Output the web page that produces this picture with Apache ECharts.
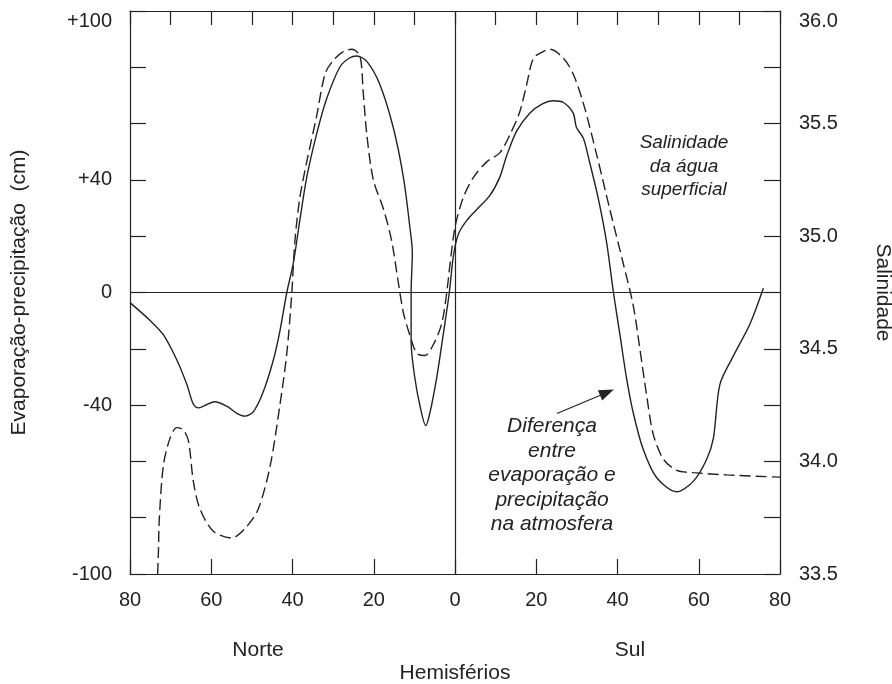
<!DOCTYPE html>
<html>
<head>
<meta charset="utf-8">
<script src="https://cdn.jsdelivr.net/npm/echarts@6/dist/echarts.min.js"></script>
<style>
  html, body { margin: 0; padding: 0; background: #fff; }
  #chart { width: 892px; height: 684px; }
</style>
</head>
<body>
<div id="chart"></div>
<script>
// latitude: negative = Norte, positive = Sul
const evapLat = [-80, -75.1, -71.8, -68.5, -66, -64.4, -63.2, -61.5, -59.1, -56.2, -53.7, -51.7, -49.6, -47.2, -44.7, -43.1, -41.4, -39.8, -38.2, -36.5, -34.1, -31.6, -28.3, -25.9, -24.2, -21.7, -18.5, -15.2, -12.7, -11.1, -10.5, -10.8, -10.8, -9.9, -8.6, -7.2, -6.2, -4.5, -2.9, -1.4, -0.4, 0.8, 2.9, 5.3, 8.6, 11, 12.7, 15.2, 18.4, 21.5, 24.2, 26.7, 29.1, 29.9, 31.6, 33.2, 35.3, 37.3, 39, 40.6, 42.2, 43.9, 46.3, 49.6, 54.6, 58.7, 61.9, 63.6, 65.2, 68.5, 72.6, 75.9]
const evapVal = [-3.6, -9.9, -15, -23.9, -32.7, -39.7, -41, -40.1, -38.8, -40.4, -42.9, -43.9, -42.3, -35.3, -23.9, -13.7, 0, 10.4, 25.6, 40.9, 56.1, 68.8, 80.2, 83.4, 84, 82.1, 73.9, 58.6, 40.9, 23.1, 14.2, 0, -17.5, -30.2, -40.4, -47.3, -42.9, -30.2, -15, 0, 12.9, 20.6, 25.6, 29.4, 34.5, 40.9, 48.5, 57.4, 63.7, 67, 68.1, 67.5, 63.7, 58.6, 54.8, 45.9, 33.2, 18, 0, -15, -30.2, -42.9, -55.6, -65.7, -70.8, -67, -59.4, -51.8, -32.7, -22.6, -11.2, 1.5]

const salLat = [-73.2, -73.0, -72.8, -71.8, -70.2, -68.5, -66.9, -65.6, -64.4, -62.8, -59.5, -55, -51.3, -48.4, -45.5, -43.1, -41.4, -40.2, -39.4, -38.2, -36.5, -34.1, -32, -30, -27.5, -25.4, -23.4, -22.6, -21.7, -20.1, -17.6, -15.6, -14, -12.7, -11.1, -9.4, -7.4, -5.3, -3.3, -2.1, -1.2, 0, 2, 4.5, 7.8, 11, 13.5, 15.9, 17.6, 19.3, 21.7, 23.4, 26.7, 29.1, 31.6, 34.9, 38.1, 41.4, 43.9, 45.5, 47.2, 48.8, 51.3, 54.6, 58.7, 66.9, 80]
const salVal = [33.5, 33.6, 33.74, 33.98, 34.1, 34.15, 34.14, 34.09, 33.91, 33.79, 33.69, 33.66, 33.71, 33.79, 33.98, 34.25, 34.48, 34.74, 34.98, 35.17, 35.33, 35.53, 35.72, 35.78, 35.82, 35.83, 35.80, 35.64, 35.45, 35.25, 35.12, 34.98, 34.80, 34.66, 34.56, 34.48, 34.47, 34.52, 34.61, 34.74, 34.88, 35.04, 35.17, 35.26, 35.33, 35.37, 35.45, 35.55, 35.67, 35.79, 35.82, 35.83, 35.79, 35.72, 35.59, 35.36, 35.12, 34.88, 34.69, 34.50, 34.29, 34.12, 34.01, 33.96, 33.95, 33.94, 33.93]

const leftLabels = [100, 40, 0, -40, -100]
const rightLabels = [33.5, 34.0, 34.5, 35.0, 35.5, 36.0]

const ink = '#222'
const font = 'Liberation Sans, Arial, Helvetica, sans-serif'

const myChart = echarts.init(document.getElementById('chart'))
const option = {
  animation: false,
  backgroundColor: '#fff',
  textStyle: { fontFamily: font, color: ink },
  grid: { left: 130, right: 112, top: 11, bottom: 110, outerBoundsMode: 'none', containLabel: false },
  xAxis: [{
    type: 'value', min: -80, max: 80, interval: 20,
    name: 'Hemisférios', nameLocation: 'middle', nameGap: 89,
    nameTextStyle: { fontSize: 21, color: ink, fontFamily: font },
    axisLine: { onZero: false, lineStyle: { color: ink, width: 1.2 } },
    axisTick: { inside: true, length: 15, lineStyle: { color: ink, width: 1.2 } },
    axisLabel: { margin: 16, fontSize: 20, color: ink, fontFamily: font, formatter: v => String(Math.abs(v)) },
    splitLine: { show: false }
  }, {
    type: 'value', position: 'top', min: -80, max: 80, interval: 10,
    axisLine: { show: true, onZero: false, lineStyle: { color: ink, width: 1.2 } },
    axisTick: { inside: true, length: 14, lineStyle: { color: ink, width: 1.2 } },
    axisLabel: { show: false },
    splitLine: { show: false }
  }],
  yAxis: [{
    type: 'value', min: -100, max: 100, interval: 20,
    name: 'Evaporação-precipitação  (cm)', nameLocation: 'middle', nameGap: 100,
    nameTextStyle: { fontSize: 21, color: ink, fontFamily: font },
    axisLine: { show: true, onZero: false, lineStyle: { color: ink, width: 1.2 } },
    axisTick: { inside: true, length: 16, lineStyle: { color: ink, width: 1.2 } },
    axisLabel: {
      margin: 18, fontSize: 20, color: ink, fontFamily: font, verticalAlignMaxLabel: 'top',
      formatter: v => leftLabels.includes(v) ? (v > 0 ? '+' + v : String(v)) : ''
    },
    splitLine: { show: false }
  }, {
    type: 'value', position: 'right', min: 33.5, max: 36, interval: 0.25,
    name: 'Salinidade', nameLocation: 'middle', nameGap: 92, nameRotate: -90,
    nameTextStyle: { fontSize: 21, color: ink, fontFamily: font },
    axisLine: { show: true, onZero: false, lineStyle: { color: ink, width: 1.2 } },
    axisTick: { inside: true, length: 16, lineStyle: { color: ink, width: 1.2 } },
    axisLabel: {
      margin: 19, fontSize: 20, color: ink, fontFamily: font, verticalAlignMaxLabel: 'top',
      formatter: v => rightLabels.some(r => Math.abs(r - v) < 1e-6) ? v.toFixed(1) : ''
    },
    splitLine: { show: false }
  }],
  series: [{
    name: 'E-P', type: 'line', xAxisIndex: 0, yAxisIndex: 0,
    data: evapLat.map((x, i) => [x, evapVal[i]]),
    smooth: 0.3, showSymbol: false, silent: true,
    lineStyle: { color: ink, width: 1.4 },
    markLine: {
      silent: true, symbol: ['none', 'none'], label: { show: false },
      lineStyle: { color: ink, width: 1.2, type: 'solid' },
      data: [
        { yAxis: 0 },
        { xAxis: 0 },
        [{ coord: [25.1, -43], symbol: 'none' }, { coord: [37.4, -35.5], symbol: 'triangle', symbolSize: [11, 15] }]
      ]
    }
  }, {
    name: 'Salinidade', type: 'line', xAxisIndex: 0, yAxisIndex: 1,
    data: salLat.map((x, i) => [x, salVal[i]]),
    smooth: 0.3, showSymbol: false, silent: true,
    lineStyle: { color: ink, width: 1.4, type: [11, 5] }
  }],
  graphic: [
    { type: 'text', x: 258, y: 650, style: { text: 'Norte', font: '21px ' + font, fill: ink, align: 'center', verticalAlign: 'middle' } },
    { type: 'text', x: 630, y: 650, style: { text: 'Sul', font: '21px ' + font, fill: ink, align: 'center', verticalAlign: 'middle' } },
    { type: 'text', x: 684, y: 131, style: { text: 'Salinidade\nda água\nsuperficial', font: 'italic 19px ' + font, fill: ink, align: 'center', lineHeight: 23.5 } },
    { type: 'text', x: 552, y: 414, style: { text: 'Diferença\nentre\nevaporação e\nprecipitação\nna atmosfera', font: 'italic 21px ' + font, fill: ink, align: 'center', lineHeight: 24.5 } }
  ]
}
myChart.setOption(option)
window.addEventListener('resize', () => { myChart.resize() })
</script>
</body>
</html>
